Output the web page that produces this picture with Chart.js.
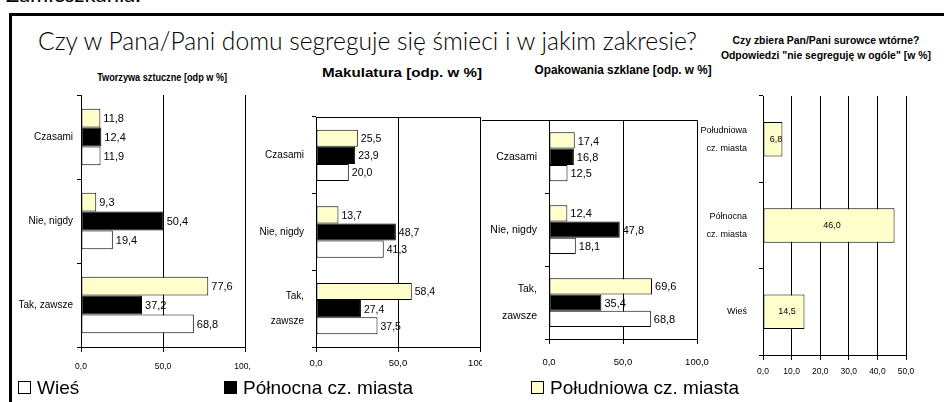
<!DOCTYPE html>
<html lang="pl">
<head>
<meta charset="utf-8">
<script src="https://cdn.jsdelivr.net/npm/chart.js@4.4.1/dist/chart.umd.min.js"></script>
<style>
  html, body { margin: 0; padding: 0; background: #fff; }
  body { width: 944px; height: 402px; position: relative; overflow: hidden; font-family: 'Liberation Sans', Arial, sans-serif; color: #000; }
  .frame { position: absolute; left: 9px; top: 13px; width: 1000px; height: 500px; border-top: 3px solid #000; border-left: 3px solid #000; }
  .cut { position: absolute; left: 6px; top: -17px; font: 22px/22px 'Lato', sans-serif; white-space: nowrap; }
  #title { position: absolute; left: 38px; top: 27px; font: 300 26px/26px 'Lato', sans-serif; white-space: nowrap; transform-origin: 0 0; }
  .sub { position: absolute; font-weight: bold; white-space: nowrap; text-align: center; }
  canvas { position: absolute; }
  canvas.bg { background: #fff; }
  .legend span { position: absolute; top: 377px; font-size: 19px; line-height: 22px; white-space: nowrap; }
  .legend i { display: inline-block; width: 11px; height: 11px; border: 1px solid #000; margin-right: 6px; vertical-align: 0px; }
</style>
</head>
<body>
<div class="frame"></div>
<div class="cut">Zamieszkania:</div>
<div id="title">Czy w Pana/Pani domu segreguje się śmieci i w jakim zakresie?</div>

<div class="sub fit" data-x="162" data-y="77" data-w="130" style="font-size:11px;">Tworzywa sztuczne [odp w %]</div>
<div class="sub fit" data-x="402" data-y="73" data-w="160" style="font-size:12.5px;">Makulatura [odp. w %]</div>
<div class="sub fit" data-x="623" data-y="70" data-w="177" style="font-size:12.5px;">Opakowania szklane [odp. w %]</div>
<div class="sub fit" data-x="826" data-y="48" data-w="210" style="font-size:10.5px; line-height:15px;">Czy zbiera Pan/Pani surowce wtórne?<br>Odpowiedzi "nie segreguję w ogóle" [w %]</div>

<canvas id="c1" class="bg" width="245" height="293" style="left:12px; top:85px;"></canvas>
<canvas id="c2" class="bg" width="241" height="294" style="left:251px; top:84px;"></canvas>
<canvas id="c3" class="bg" width="230" height="293" style="left:482px; top:85px;"></canvas>
<canvas id="c4" width="230" height="310" style="left:700px; top:75px;"></canvas>

<div class="legend" id="legend"></div>

<script>
// Kategorie odpowiedzi
const kategorie = ['Czasami', 'Nie, nigdy', 'Tak, zawsze'];
const kategorieDwuwiersz = ['Czasami', 'Nie, nigdy', ['Tak,', 'zawsze']];

// Serie (miejsce zamieszkania)
const serie = ['Wieś', 'Północna cz. miasta', 'Południowa cz. miasta'];
const kolory = ['#FFFFFF', '#000000', '#FFFFCC'];

// Tworzywa sztuczne [odp w %]
const tworzywaWies = [11.9, 19.4, 68.8];
const tworzywaPolnoc = [12.4, 50.4, 37.2];
const tworzywaPoludnie = [11.8, 9.3, 77.6];

// Makulatura [odp. w %]
const makulaturaWies = [20.0, 41.3, 37.5];
const makulaturaPolnoc = [23.9, 48.7, 27.4];
const makulaturaPoludnie = [25.5, 13.7, 58.4];

// Opakowania szklane [odp. w %]
const szkloWies = [12.5, 18.1, 68.8];
const szkloPolnoc = [16.8, 47.8, 35.4];
const szkloPoludnie = [17.4, 12.4, 69.6];

// Odpowiedzi "nie segreguję w ogóle" [w %]
const dzielnice = [['Południowa', 'cz. miasta'], ['Północna', 'cz. miasta'], 'Wieś'];
const nieSegreguje = [6.8, 46.0, 14.5];

// Osie
const osProcentMax = 100, osProcentKrok = 50;
const osNieMax = 50, osNieKrok = 10;

const FONT = "'Liberation Sans', Arial, sans-serif";
const fmt = v => Number(v).toFixed(1).replace('.', ',');

// Etykiety wartości przy słupkach
const valueLabels = {
    id: 'valueLabels',
    afterDatasetsDraw(chart, args, opts) {
        const ctx = chart.ctx;
        ctx.save();
        ctx.font = opts.size + 'px ' + FONT;
        ctx.fillStyle = '#000';
        ctx.textBaseline = 'middle';
        chart.data.datasets.forEach((ds, i) => {
            chart.getDatasetMeta(i).data.forEach((bar, j) => {
                const txt = fmt(ds.data[j]);
                if (opts.inside) {
                    ctx.textAlign = 'center';
                    ctx.fillText(txt, (bar.x + bar.base) / 2 + 3, bar.y);
                } else {
                    ctx.textAlign = 'left';
                    ctx.fillText(txt, bar.x + 3, bar.y + 1);
                }
            });
        });
        ctx.restore();
    }
};

// Górna krawędź obszaru wykresu
const plotTop = {
    id: 'plotTop',
    afterDraw(chart, args, opts) {
        if (!opts.show) return;
        const { ctx, chartArea } = chart;
        const y = Math.round(chartArea.top) + 0.5;
        ctx.save();
        ctx.strokeStyle = '#000';
        ctx.lineWidth = 1;
        ctx.beginPath();
        ctx.moveTo(opts.fromEdge ? 0 : chartArea.left, y);
        ctx.lineTo(chartArea.right, y);
        ctx.stroke();
        ctx.restore();
    }
};

function zestaw(wies, polnoc, poludnie) {
    // kolejność od góry: Południowa, Północna, Wieś
    return [
        { label: serie[2], data: poludnie, backgroundColor: kolory[2] },
        { label: serie[1], data: polnoc, backgroundColor: kolory[1] },
        { label: serie[0], data: wies, backgroundColor: kolory[0] }
    ].map(d => Object.assign(d, { borderColor: '#000', borderWidth: 1, borderSkipped: false,
        categoryPercentage: 0.67, barPercentage: 1.0 }));
}

function wykres(id, cfg) {
    return new Chart(document.getElementById(id), {
        type: 'bar',
        data: { labels: cfg.labels, datasets: cfg.datasets },
        options: {
            indexAxis: 'y',
            responsive: false,
            animation: false,
            layout: { padding: { top: cfg.padTop, right: cfg.padRight, left: 0, bottom: 0 } },
            scales: {
                x: {
                    min: 0, max: cfg.max,
                    ticks: { stepSize: cfg.step, padding: cfg.xPad, color: '#000', maxRotation: 0, autoSkip: false,
                             font: { family: FONT, size: cfg.xFont }, callback: v => fmt(v) },
                    grid: { color: '#000', tickLength: 5, drawOnChartArea: true },
                    border: { color: '#000' },
                    afterFit: s => { s.height = cfg.xh; s.paddingLeft = 0; s.paddingRight = 0; }
                },
                y: {
                    ticks: { padding: cfg.yPad, color: '#000', autoSkip: false,
                             font: { family: FONT, size: cfg.yFont, lineHeight: cfg.yLine || 1.2 } },
                    grid: { offset: true, drawOnChartArea: false, tickLength: 4, color: '#000' },
                    border: { color: '#000' },
                    afterFit: s => { s.width = cfg.yw; }
                }
            },
            plugins: {
                legend: { display: false },
                tooltip: { enabled: false },
                valueLabels: { size: cfg.labelSize || 11, inside: !!cfg.inside },
                plotTop: { show: !!cfg.top, fromEdge: !!cfg.topFromEdge }
            }
        },
        plugins: [valueLabels, plotTop]
    });
}

wykres('c1', {
    labels: kategorie,
    datasets: zestaw(tworzywaWies, tworzywaPolnoc, tworzywaPoludnie),
    max: osProcentMax, step: osProcentKrok,
    padTop: 8, padRight: 12, xh: 31, yw: 69, xPad: 10, yPad: 4, xFont: 8.5, yFont: 10
});

wykres('c2', {
    labels: kategorieDwuwiersz,
    datasets: zestaw(makulaturaWies, makulaturaPolnoc, makulaturaPoludnie),
    max: osProcentMax, step: osProcentKrok,
    padTop: 8, padRight: 12, xh: 31, yw: 65, xPad: 6, yPad: 8, xFont: 9.5, yFont: 10,
    yLine: 2.5, labelSize: 10.5, top: true
});

wykres('c3', {
    labels: kategorieDwuwiersz,
    datasets: zestaw(szkloWies, szkloPolnoc, szkloPoludnie),
    max: osProcentMax, step: osProcentKrok,
    padTop: 8, padRight: 15, xh: 39, yw: 67, xPad: 13, yPad: 8, xFont: 9.5, yFont: 10.5,
    yLine: 2.6, top: true, topFromEdge: true
});

wykres('c4', {
    labels: dzielnice,
    datasets: [{ label: 'nie segreguję w ogóle', data: nieSegreguje, backgroundColor: kolory[2],
                 borderColor: '#000', borderWidth: 1, borderSkipped: false,
                 categoryPercentage: 0.4, barPercentage: 1.0 }],
    max: osNieMax, step: osNieKrok,
    padTop: 8, padRight: 24, xh: 29, yw: 63, xPad: 7, yPad: 12, xFont: 8.5, yFont: 9,
    yLine: 2, labelSize: 9, inside: true
});

// Wspólna legenda
const legenda = document.getElementById('legend');
const pozycje = [18, 224, 531];
serie.forEach((nazwa, i) => {
    const s = document.createElement('span');
    s.style.left = pozycje[i] + 'px';
    s.innerHTML = '<i style="background:' + kolory[i] + '"></i>' + nazwa;
    legenda.appendChild(s);
});

// Dopasowanie szerokości tytułów
const tytul = document.getElementById('title');
tytul.style.transform = 'scaleX(' + (659 / tytul.getBoundingClientRect().width) + ')';

document.querySelectorAll('.sub.fit').forEach(el => {
    const r = el.getBoundingClientRect();
    const k = Number(el.dataset.w) / r.width;
    el.style.left = (Number(el.dataset.x) - r.width / 2) + 'px';
    el.style.top = (Number(el.dataset.y) - r.height / 2) + 'px';
    el.style.transformOrigin = '50% 50%';
    el.style.transform = 'scaleX(' + k + ')';
});
</script>
</body>
</html>
